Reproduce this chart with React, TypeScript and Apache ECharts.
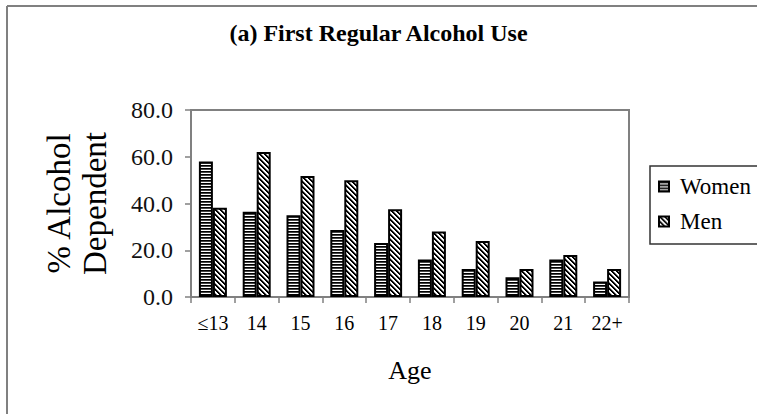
import React, { useEffect, useRef } from "react";
import * as echarts from "echarts";

const categories = ["≤13", "14", "15", "16", "17", "18", "19", "20", "21", "22+"];
const women = [58, 36.5, 35, 28.7, 23.1, 16, 12, 8.4, 16, 6.6];
const men = [38.2, 62, 51.8, 50, 37.5, 28, 24, 12, 18, 12];
const seriesNames = ["Women", "Men"];
const titleText = "(a) First Regular Alcohol Use";
const yAxisName = "% Alcohol\nDependent";
const xAxisName = "Age";

const FONT = "'Liberation Serif', 'Times New Roman', serif";

function makeTile(kind: "h" | "d") {
  const w = kind === "h" ? 4 : 5;
  const h = kind === "h" ? 3 : 5;
  const c = document.createElement("canvas");
  c.width = w;
  c.height = h;
  const ctx = c.getContext("2d")!;
  const img = ctx.createImageData(w, h);
  for (let y = 0; y < h; y++) {
    for (let x = 0; x < w; x++) {
      let v = 255;
      if (kind === "h") {
        v = y === 0 ? 0 : y === 1 ? 70 : 255;
      } else {
        const m = (((x - y) % w) + w) % w;
        v = m < 2 ? 0 : m === 2 ? 140 : 255;
      }
      const i = (y * w + x) * 4;
      img.data[i] = v;
      img.data[i + 1] = v;
      img.data[i + 2] = v;
      img.data[i + 3] = 255;
    }
  }
  ctx.putImageData(img, 0, 0);
  return { image: c.toDataURL(), repeat: "repeat", imageWidth: w, imageHeight: h } as any;
}

export default function App() {
  const ref = useRef<HTMLDivElement>(null);
  useEffect(() => {
    if (!ref.current) return;
    const chart = echarts.init(ref.current, null, { renderer: "svg" });
    const hPat = makeTile("h");
    const dPat = makeTile("d");
    chart.setOption({
      animation: false,
      backgroundColor: "#ffffff",
      title: {
        text: titleText,
        left: "center",
        top: 21,
        padding: 0,
        textStyle: { fontFamily: FONT, fontSize: 24, fontWeight: "bold", color: "#000" },
      },
      legend: {
        orient: "vertical",
        left: 650,
        top: 166,
        itemWidth: 10,
        itemHeight: 10,
        itemGap: 12,
        padding: [9, 40, 11, 8],
        borderColor: "#333",
        borderWidth: 1.5,
        icon: "rect",
        data: seriesNames,
        textStyle: { fontFamily: FONT, fontSize: 23, color: "#000", padding: [0, 0, 0, 6] },
      },
      graphic: [
        { type: "line", shape: { x1: 7, y1: 6, x2: 757, y2: 6 }, style: { stroke: "#808080", lineWidth: 2 } },
        { type: "line", shape: { x1: 7, y1: 6, x2: 7, y2: 414 }, style: { stroke: "#808080", lineWidth: 2 } },
      ],
      grid: {
        left: 191,
        right: 128,
        top: 110,
        bottom: 117,
        show: true,
        borderColor: "#808080",
        borderWidth: 2,
        backgroundColor: "transparent",
      },
      xAxis: {
        type: "category",
        data: categories,
        boundaryGap: true,
        name: xAxisName,
        nameLocation: "middle",
        nameGap: 60,
        nameTextStyle: { fontFamily: FONT, fontSize: 26, color: "#000" },
        axisLine: { lineStyle: { color: "#808080", width: 2 } },
        axisTick: { show: true, length: 6, lineStyle: { color: "#808080", width: 1.5 } },
        axisLabel: { fontFamily: FONT, fontSize: 20, color: "#000", margin: 16 },
        splitLine: { show: false },
      },
      yAxis: {
        type: "value",
        min: 0,
        max: 80,
        interval: 20,
        name: yAxisName,
        nameLocation: "middle",
        nameGap: 78,
        nameRotate: 90,
        nameTextStyle: { fontFamily: FONT, fontSize: 33, lineHeight: 36, color: "#000" },
        axisLine: { show: true, lineStyle: { color: "#808080", width: 2 } },
        axisTick: { show: true, length: 6, lineStyle: { color: "#808080", width: 1.5 } },
        axisLabel: {
          fontFamily: FONT,
          fontSize: 24,
          color: "#111",
          margin: 18,
          formatter: (v: number) => v.toFixed(1),
        },
        splitLine: { show: false },
      },
      series: [
        {
          name: seriesNames[0],
          type: "bar",
          data: women,
          barWidth: 14,
          barGap: "0%",
          itemStyle: { color: hPat, borderColor: "#000", borderWidth: 2 },
        },
        {
          name: seriesNames[1],
          type: "bar",
          data: men,
          barWidth: 14,
          barGap: "0%",
          itemStyle: { color: dPat, borderColor: "#000", borderWidth: 2 },
        },
      ],
    });
    return () => chart.dispose();
  }, []);
  return (
    <div
      ref={ref}
      style={{ position: "fixed", left: 0, top: 0, width: 757, height: 414, background: "#fff" }}
    />
  );
}
